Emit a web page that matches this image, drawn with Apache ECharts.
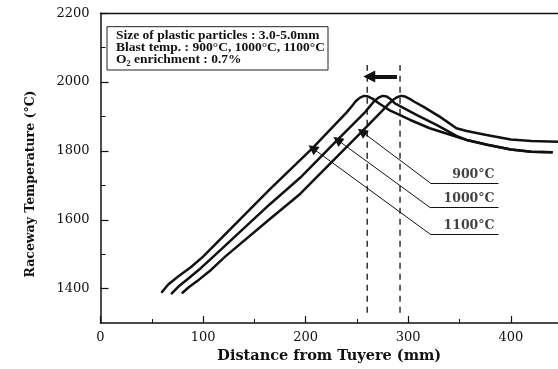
<!DOCTYPE html>
<html><head><meta charset="utf-8">
<script src="https://cdn.jsdelivr.net/npm/echarts@6/dist/echarts.min.js"></script>
<style>html,body{margin:0;padding:0;background:#fff}#c{width:558px;height:369px}</style>
</head><body><div id="c"></div>
<script>
// Tick values
const xTickLabels = [0, 100, 200, 300, 400];
const xMinorTicks = [50, 150, 250, 350];
const yTickLabels = [1400, 1600, 1800, 2000, 2200];
const yMinorTicks = [1500, 1700, 1900, 2100];

// Curve 1100°C (blast temp.)
const x1100 = [60, 66, 76, 88, 100, 165, 206.7, 240, 245, 249, 253, 257, 261, 265, 272, 282, 302, 321, 341, 357, 377, 400, 420, 440];
const y1100 = [1390, 1412, 1436, 1462, 1493, 1688, 1808, 1912, 1930, 1945, 1955, 1960, 1958, 1952, 1937, 1918, 1890, 1866, 1847, 1832, 1818, 1804, 1798, 1796];
// Curve 1000°C
const x1000 = [69.5, 76, 86, 98, 110, 165.4, 194.6, 231, 258, 263, 267, 271, 275, 279, 283, 287, 308.5, 328, 347.5, 357, 377, 400, 420, 440];
const y1000 = [1386, 1406, 1430, 1460, 1493, 1646, 1722, 1832, 1913, 1931, 1945, 1955, 1960, 1958, 1950, 1938, 1904, 1875, 1843, 1832, 1818, 1804, 1798, 1796];
// Curve 900°C
const x900 = [80, 86, 96, 108, 121.5, 165.4, 194.6, 254.8, 275, 280, 285, 289, 293, 297, 301, 306, 315, 331, 347, 357, 375, 400, 420, 446];
const y900 = [1388, 1404, 1426, 1455, 1493, 1603, 1675, 1856, 1918, 1934, 1948, 1956, 1960, 1958, 1952, 1943, 1928, 1899, 1866, 1858, 1847, 1833, 1829, 1827];

// Annotations
const peakShiftX = [260, 292];          // dashed reference lines
const peakShiftYRange = [1330, 2050];
const shiftArrowX = [289, 258];         // arrow from 900°C peak to 1100°C peak
const shiftArrowY = 2016;
const labelNames = ['900°C', '1000°C', '1100°C'];
const tipX = [254.8, 231, 206.7];
const tipY = [1856, 1832, 1808];
const elbowX = 321.5;
const underlineEndX = 388;
const labelY = [1707, 1635, 1558];

const zip = (xs, ys) => xs.map((x, i) => [x, ys[i]]);
const ink = '#111';
const curve = (name, xs, ys) => ({
  type: 'line', name, data: zip(xs, ys), symbol: 'none', smooth: false,
  lineStyle: { color: ink, width: 2.5, join: 'round', cap: 'round' }, silent: true, z: 3
});

const chart = echarts.init(document.getElementById('c'), null, { renderer: 'canvas' });
const XMAX = 446;
chart.setOption({
  animation: false,
  backgroundColor: '#fff',
  grid: { left: 100.5, right: 0, top: 13.3, bottom: 42.5 },
  xAxis: [
    {
      type: 'value', min: 0, max: XMAX, position: 'bottom',
      name: 'Distance from Tuyere (mm)', nameLocation: 'middle', nameGap: 26,
      nameTextStyle: { fontFamily: 'DejaVu Serif', fontWeight: 'bold', fontSize: 14.5, color: ink },
      axisLine: { show: true, lineStyle: { color: ink, width: 1.5 } },
      axisTick: { show: true, inside: true, length: 7, customValues: xTickLabels, lineStyle: { color: ink, width: 1.2 } },
      axisLabel: { customValues: xTickLabels, margin: 8, fontFamily: 'DejaVu Serif', fontSize: 13, color: ink, formatter: v => String(v) },
      splitLine: { show: false }
    },
    {
      type: 'value', min: 0, max: XMAX, position: 'bottom',
      axisLine: { show: false },
      axisTick: { show: true, inside: true, length: 4, customValues: xMinorTicks, lineStyle: { color: ink, width: 1 } },
      axisLabel: { show: false }, splitLine: { show: false }
    },
    {
      type: 'value', min: 0, max: XMAX, position: 'top',
      axisLine: { show: true, lineStyle: { color: ink, width: 1.3 } },
      axisTick: { show: false }, axisLabel: { show: false }, splitLine: { show: false }
    }
  ],
  yAxis: [
    {
      type: 'value', min: 1300, max: 2200, position: 'left',
      axisLine: { show: true, lineStyle: { color: ink, width: 1.5 } },
      axisTick: { show: true, inside: true, length: 8, customValues: yTickLabels, lineStyle: { color: ink, width: 1.2 } },
      axisLabel: { customValues: yTickLabels, margin: 11, fontFamily: 'DejaVu Serif', fontSize: 13, color: ink, formatter: v => String(v) },
      splitLine: { show: false }
    },
    {
      type: 'value', min: 1300, max: 2200, position: 'left',
      axisLine: { show: false },
      axisTick: { show: true, inside: true, length: 5, customValues: yMinorTicks, lineStyle: { color: ink, width: 1 } },
      axisLabel: { show: false }, splitLine: { show: false }
    }
  ],
  series: [
    curve('1100°C', x1100, y1100),
    curve('1000°C', x1000, y1000),
    curve('900°C', x900, y900),
    ...peakShiftX.map(x => ({
      type: 'line', data: peakShiftYRange.map(y => [x, y]), symbol: 'none', silent: true,
      lineStyle: { color: ink, width: 1.3, type: [6, 5] }, z: 2
    })),
    // label underlines
    {
      type: 'lines', coordinateSystem: 'cartesian2d', silent: true,
      lineStyle: { color: ink, width: 1, opacity: 1 },
      data: labelNames.map((n, i) => ({ coords: [[underlineEndX, labelY[i]], [elbowX, labelY[i]]] })),
      z: 4
    },
    // leader lines with arrow heads at the curves
    {
      type: 'lines', coordinateSystem: 'cartesian2d', silent: true,
      symbol: ['none', 'triangle'], symbolSize: [6, 10],
      lineStyle: { color: ink, width: 1, opacity: 1 },
      data: labelNames.map((n, i) => ({ coords: [[elbowX, labelY[i]], [tipX[i], tipY[i]]] })),
      z: 4
    },
    {
      type: 'lines', coordinateSystem: 'cartesian2d', silent: true,
      symbol: ['none', 'triangle'], symbolSize: [9, 12],
      lineStyle: { color: ink, width: 4, opacity: 1 },
      data: [{ coords: [[shiftArrowX[0], shiftArrowY], [shiftArrowX[1] + 4, shiftArrowY]] }],
      z: 4
    },
    {
      type: 'scatter', symbolSize: 0, silent: true,
      data: labelNames.map((n, i) => ({ value: [underlineEndX, labelY[i]], name: n })),
      label: {
        show: true, position: 'top', align: 'right', distance: 2, offset: [-4, 0],
        formatter: p => p.name,
        fontFamily: 'DejaVu Serif', fontWeight: 'bold', fontSize: 12.5, color: ink
      },
      z: 5
    }
  ],
  graphic: [
    {
      type: 'rect', shape: { x: 107, y: 26.7, width: 221, height: 43.3 },
      style: { fill: '#fff', stroke: '#222', lineWidth: 1 }, z: 10
    },
    {
      type: 'text', x: 116, y: 35.3, z: 11,
      style: { text: 'Size of plastic particles : 3.0-5.0mm', font: 'bold 13.5px "Liberation Serif"', fill: ink, verticalAlign: 'middle' }
    },
    {
      type: 'text', x: 116, y: 47.6, z: 11,
      style: { text: 'Blast temp. : 900°C, 1000°C, 1100°C', font: 'bold 13.5px "Liberation Serif"', fill: ink, verticalAlign: 'middle' }
    },
    {
      type: 'text', x: 116, y: 59.6, z: 11,
      style: { text: 'O₂ enrichment : 0.7%', font: 'bold 13.5px "Liberation Serif"', fill: ink, verticalAlign: 'middle' }
    },
    {
      type: 'text', x: 31, y: 184, rotation: Math.PI / 2, z: 11,
      style: { text: 'Raceway Temperature (°C)', font: 'bold 12.5px "DejaVu Serif"', fill: ink, align: 'center', verticalAlign: 'middle' }
    }
  ]
});
</script>
</body></html>
